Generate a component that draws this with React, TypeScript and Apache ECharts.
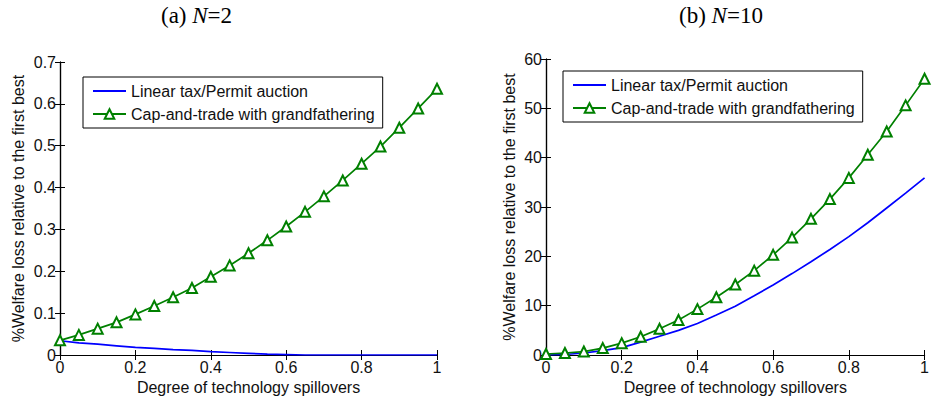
import React, { useEffect, useRef } from "react";
import * as echarts from "echarts";

const spill = [0, 0.05, 0.1, 0.15, 0.2, 0.25, 0.3, 0.35, 0.4, 0.45, 0.5, 0.55, 0.6, 0.65, 0.7, 0.75, 0.8, 0.85, 0.9, 0.95, 1];

// (a) N=2
const taxN2 = [0.034, 0.029, 0.026, 0.022, 0.018, 0.016, 0.013, 0.011, 0.008, 0.006, 0.004, 0.002, 0.001, 0, 0, 0, 0, 0, 0, 0, 0];
const capN2 = [0.035, 0.048, 0.063, 0.078, 0.097, 0.117, 0.138, 0.16, 0.187, 0.214, 0.243, 0.274, 0.307, 0.342, 0.379, 0.417, 0.457, 0.498, 0.543, 0.589, 0.636];

// (b) N=10
const taxN10 = [0, 0.1, 0.4, 0.9, 1.5, 2.6, 3.8, 5.0, 6.4, 8.1, 9.9, 12.0, 14.2, 16.5, 18.9, 21.4, 24.0, 26.8, 29.8, 32.8, 35.9];
const capN10 = [0.2, 0.4, 0.7, 1.4, 2.4, 3.7, 5.3, 7.1, 9.3, 11.7, 14.3, 17.1, 20.3, 23.8, 27.6, 31.6, 35.9, 40.6, 45.3, 50.6, 56.0];

const seriesNames = ["Linear tax/Permit auction", "Cap-and-trade with grandfathering"];
const titles = ["(a) {i|N}=2", "(b) {i|N}=10"];
const xName = "Degree of technology spillovers";
const yName = "%Welfare loss relative to the first best";

const SANS = "Liberation Sans, Arial, sans-serif";
const SERIF = "Liberation Serif, Times New Roman, serif";
const BLUE = "#0000ff";
const GREEN = "#008000";
const FS = 16;

const pairs = (ys: number[]) => spill.map((x, i) => [x, ys[i]]);

export default function App() {
  const ref = useRef<HTMLDivElement>(null);
  useEffect(() => {
    if (!ref.current) return;
    const chart = echarts.init(ref.current, null, { renderer: "svg" });

    const grids = [
      { left: 60, top: 62, width: 377, height: 293 },
      { left: 546, top: 59, width: 382, height: 296 },
    ];
    const yMax = [0.7, 60];
    const yInt = [0.1, 10];
    const yGap = [34, 29];

    const xAxes: any[] = [];
    const yAxes: any[] = [];
    grids.forEach((g, gi) => {
      const common = {
        gridIndex: gi,
        type: "value",
        axisLine: { show: true, lineStyle: { color: "#000", width: 1.2 } },
        axisTick: { show: true, inside: true, length: 5, lineStyle: { color: "#000" } },
        splitLine: { show: false },
      };
      xAxes.push({
        ...common,
        position: "bottom",
        min: 0,
        max: 1,
        interval: 0.2,
        name: xName,
        nameLocation: "middle",
        nameGap: 24,
        nameTextStyle: { fontFamily: SANS, fontSize: FS, color: "#111" },
        axisLabel: { fontFamily: SANS, fontSize: FS, color: "#111", margin: 4 },
      });
      xAxes.push({
        ...common,
        position: "top",
        min: 0,
        max: 1,
        interval: 0.2,
        axisLabel: { show: false },
      });
      yAxes.push({
        ...common,
        position: "left",
        min: 0,
        max: yMax[gi],
        interval: yInt[gi],
        name: yName,
        nameLocation: "middle",
        nameGap: yGap[gi],
        nameRotate: 90,
        nameTextStyle: { fontFamily: SANS, fontSize: FS, color: "#111" },
        axisLabel: { fontFamily: SANS, fontSize: FS, color: "#111", margin: 4 },
      });
      yAxes.push({
        ...common,
        position: "right",
        min: 0,
        max: yMax[gi],
        interval: yInt[gi],
        axisLabel: { show: false },
      });
    });

    const mk = (gi: number, tax: number[], cap: number[]) => [
      {
        name: seriesNames[0],
        type: "line",
        xAxisIndex: gi * 2,
        yAxisIndex: gi * 2,
        data: pairs(tax),
        symbol: "none",
        lineStyle: { color: BLUE, width: 1.7 },
        itemStyle: { color: BLUE },
        z: 2,
      },
      {
        name: seriesNames[1],
        type: "line",
        xAxisIndex: gi * 2,
        yAxisIndex: gi * 2,
        data: pairs(cap),
        symbol: "emptyTriangle",
        symbolSize: 10,
        showAllSymbol: true,
        lineStyle: { color: GREEN, width: 1.7 },
        itemStyle: { color: GREEN, borderColor: GREEN, borderWidth: 1.7 },
        z: 3,
      },
    ];

    const legendBase = {
      orient: "vertical",
      data: [
        { name: seriesNames[0], icon: "path://M0 0H33V2H0Z" },
        { name: seriesNames[1] },
      ],
      itemWidth: 33,
      itemHeight: 12,
      itemGap: 7,
      padding: [6, 8, 6, 9],
      borderColor: "#000",
      borderWidth: 1,
      backgroundColor: "#fff",
      textStyle: { fontFamily: SANS, fontSize: FS, color: "#111" },
      selectedMode: false,
    };

    const titleStyle = {
      fontFamily: SERIF,
      fontSize: 23,
      fontWeight: "normal",
      color: "#000",
      rich: {
        i: { fontFamily: SERIF, fontSize: 23, fontStyle: "italic", color: "#000" },
      },
    };

    chart.setOption({
      animation: false,
      backgroundColor: "#fff",
      title: [
        { text: titles[0], left: 161, top: 4, textStyle: titleStyle, padding: 0 },
        { text: titles[1], left: 679, top: 4, textStyle: titleStyle, padding: 0 },
      ],
      grid: grids,
      xAxis: xAxes,
      yAxis: yAxes,
      legend: [
        { ...legendBase, left: 83, top: 77 },
        { ...legendBase, left: 563, top: 71 },
      ],
      series: [...mk(0, taxN2, capN2), ...mk(1, taxN10, capN10)],
    });
    return () => chart.dispose();
  }, []);
  return (
    <div
      ref={ref}
      style={{ position: "fixed", left: 0, top: 0, width: 932, height: 404, background: "#fff" }}
    />
  );
}
